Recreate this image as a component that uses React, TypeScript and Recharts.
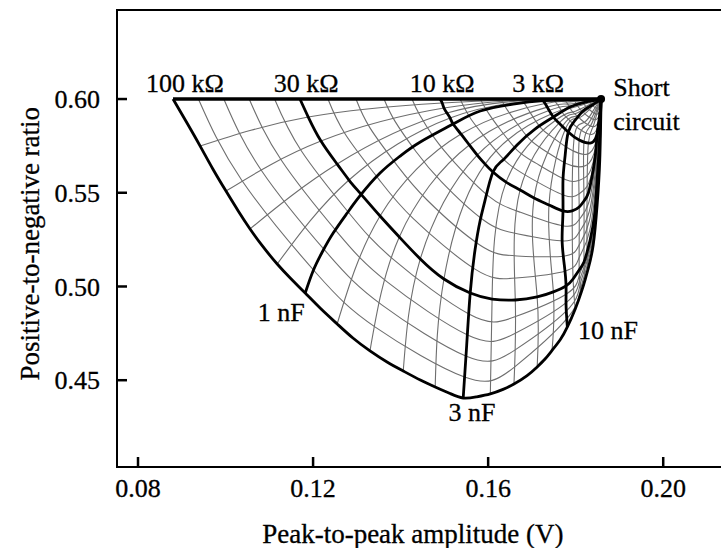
import { ComposedChart, Line, XAxis, YAxis, ReferenceArea, ReferenceDot } from 'recharts'

type Pt = [number, number]

const FONT = 'Liberation Serif'

const X_TICKS = [0.08, 0.12, 0.16, 0.2]
const Y_TICKS = [0.45, 0.5, 0.55, 0.6]
const X_DOMAIN: [number, number] = [0.0752, 0.218]
const Y_DOMAIN: [number, number] = [0.4037, 0.6475]

// C = 0 line (pure resistance) and the short-circuit end point
const OPEN_LINE: Pt[] = [[0.088, 0.6], [0.1858, 0.6]]
const SHORT_CIRCUIT: Pt = [0.1858, 0.6]

// labelled resistance curves (C going from 0 to infinity)
const R_100K: Pt[] = [
  [0.088, 0.6], [0.0912, 0.5872], [0.0942, 0.5749], [0.0971, 0.5627], [0.1001, 0.5509], [0.1029, 0.5403],
  [0.1056, 0.5307], [0.1086, 0.5211], [0.1118, 0.512], [0.115, 0.504], [0.1182, 0.4965], [0.1216, 0.4885],
  [0.1255, 0.48], [0.1291, 0.4725], [0.133, 0.4656], [0.1369, 0.4597], [0.1406, 0.4549], [0.1445, 0.4501],
  [0.1479, 0.4464], [0.1513, 0.4429], [0.1543, 0.4405], [0.1573, 0.4411], [0.1605, 0.4427], [0.1634, 0.4451],
  [0.1659, 0.448], [0.1689, 0.4525], [0.1712, 0.4571], [0.173, 0.4613], [0.1746, 0.4659], [0.1765, 0.4717],
  [0.1781, 0.4784], [0.1799, 0.488], [0.1813, 0.4971], [0.1822, 0.504], [0.1829, 0.5099], [0.184, 0.5221],
  [0.1849, 0.5435], [0.1855, 0.5675], [0.1858, 0.6],
]
const R_30K: Pt[] = [
  [0.117, 0.6], [0.1189, 0.5904], [0.1218, 0.5776], [0.1255, 0.5653], [0.1282, 0.5568], [0.1307, 0.5499],
  [0.1353, 0.5376], [0.1397, 0.5264], [0.1445, 0.5147], [0.1499, 0.504], [0.1559, 0.4965], [0.1609, 0.4933],
  [0.1662, 0.4928], [0.1712, 0.4944], [0.1749, 0.4971], [0.1778, 0.5003], [0.1794, 0.504], [0.1808, 0.5088],
  [0.1819, 0.5131], [0.1826, 0.5184], [0.1833, 0.5248], [0.1843, 0.5381], [0.1849, 0.5568], [0.1854, 0.5755],
  [0.1858, 0.6],
]
const R_10K: Pt[] = [
  [0.149, 0.6], [0.1495, 0.5979], [0.1499, 0.5952], [0.1506, 0.5925], [0.1513, 0.5899], [0.152, 0.5867],
  [0.1538, 0.5813], [0.1557, 0.5755], [0.1575, 0.5701], [0.1593, 0.5653], [0.1611, 0.5611], [0.1641, 0.5557],
  [0.1673, 0.5515], [0.1705, 0.5472], [0.1739, 0.5435], [0.1771, 0.5403], [0.1792, 0.5403], [0.1808, 0.5424],
  [0.1819, 0.5456], [0.1829, 0.5499], [0.1838, 0.5595], [0.1845, 0.5701], [0.1849, 0.5808], [0.1854, 0.5899],
  [0.1858, 0.6],
]
const R_3K: Pt[] = [
  [0.1721, 0.6], [0.1728, 0.5984], [0.1735, 0.5957], [0.1749, 0.5904], [0.1762, 0.5872], [0.1783, 0.5824],
  [0.1808, 0.5781], [0.1833, 0.5765], [0.1845, 0.5787], [0.1851, 0.5835], [0.1856, 0.5915], [0.1858, 0.6],
]

// labelled capacitance curves (R going from 100 kOhm to 0)
const C_1NF: Pt[] = [
  [0.1182, 0.4965], [0.12, 0.5083], [0.1221, 0.5184], [0.1246, 0.5285], [0.1278, 0.5392], [0.1307, 0.5483],
  [0.1353, 0.5605], [0.1399, 0.5696], [0.1445, 0.5771], [0.152, 0.5867], [0.1582, 0.5936], [0.1657, 0.5973],
  [0.1727, 0.5991], [0.1787, 0.5996], [0.1858, 0.6],
]
const C_3NF: Pt[] = [
  [0.1543, 0.4405], [0.1551, 0.4688], [0.1559, 0.4965], [0.157, 0.5195], [0.1582, 0.5355], [0.1593, 0.5461],
  [0.1611, 0.5611], [0.1634, 0.5675], [0.1666, 0.5755], [0.1707, 0.584], [0.1749, 0.5904], [0.1787, 0.5957],
  [0.1822, 0.5984], [0.1858, 0.6],
]
const C_10NF: Pt[] = [
  [0.1781, 0.4784], [0.1778, 0.4901], [0.1778, 0.5003], [0.1774, 0.5115], [0.1769, 0.5248], [0.1771, 0.5403],
  [0.1771, 0.5568], [0.1776, 0.5701], [0.1783, 0.5824], [0.1799, 0.5888], [0.1817, 0.5936], [0.1838, 0.5968],
  [0.1858, 0.6],
]

// unlabelled resistance steps
const R_GRID: Pt[][] = [
  [[0.0938, 0.6], [0.1037, 0.5567], [0.1207, 0.5072], [0.1343, 0.4782], [0.1546, 0.4517], [0.166, 0.457], [0.178, 0.4828], [0.1812, 0.4994], [0.1839, 0.5248], [0.1854, 0.5664], [0.1858, 0.6]],
  [[0.0996, 0.6], [0.1082, 0.5619], [0.1232, 0.5179], [0.1357, 0.4902], [0.1549, 0.4629], [0.166, 0.4659], [0.178, 0.4872], [0.1811, 0.5018], [0.1837, 0.5248], [0.1853, 0.5653], [0.1858, 0.6]],
  [[0.1054, 0.6], [0.1128, 0.5672], [0.1257, 0.5285], [0.137, 0.5023], [0.1553, 0.4741], [0.1661, 0.4749], [0.1779, 0.4915], [0.181, 0.5041], [0.1836, 0.5248], [0.1852, 0.5643], [0.1858, 0.6]],
  [[0.1112, 0.6], [0.1173, 0.5724], [0.1282, 0.5392], [0.1384, 0.5143], [0.1556, 0.4853], [0.1661, 0.4838], [0.1779, 0.496], [0.1809, 0.5065], [0.1834, 0.5248], [0.1851, 0.5632], [0.1858, 0.6]],
  [[0.1234, 0.6], [0.1274, 0.5811], [0.135, 0.5573], [0.1429, 0.5362], [0.1569, 0.5094], [0.1664, 0.5045], [0.1777, 0.5083], [0.1808, 0.5155], [0.1832, 0.5298], [0.1849, 0.5637], [0.1858, 0.6]],
  [[0.1298, 0.6], [0.133, 0.5846], [0.1392, 0.5646], [0.1461, 0.546], [0.158, 0.5223], [0.1666, 0.5163], [0.1775, 0.5163], [0.1808, 0.5222], [0.1831, 0.5348], [0.1848, 0.5653], [0.1858, 0.6]],
  [[0.1362, 0.6], [0.1387, 0.5882], [0.1435, 0.572], [0.1493, 0.5559], [0.159, 0.5353], [0.1669, 0.528], [0.1774, 0.5243], [0.1808, 0.529], [0.1831, 0.5399], [0.1847, 0.5669], [0.1858, 0.6]],
  [[0.1426, 0.6], [0.1443, 0.5917], [0.1477, 0.5793], [0.1525, 0.5657], [0.1601, 0.5482], [0.1671, 0.5398], [0.1772, 0.5323], [0.1808, 0.5357], [0.183, 0.5449], [0.1846, 0.5685], [0.1858, 0.6]],
  [[0.1536, 0.6], [0.1544, 0.5961], [0.1561, 0.5892], [0.1593, 0.5795], [0.1639, 0.567], [0.1691, 0.5586], [0.1773, 0.5487], [0.1808, 0.5495], [0.183, 0.5552], [0.1846, 0.5728], [0.1858, 0.6]],
  [[0.1582, 0.6], [0.1589, 0.597], [0.1603, 0.5917], [0.1628, 0.5836], [0.1666, 0.5728], [0.1709, 0.5658], [0.1776, 0.5571], [0.1808, 0.5567], [0.1831, 0.5605], [0.1847, 0.5755], [0.1858, 0.6]],
  [[0.1629, 0.6], [0.1634, 0.5979], [0.1644, 0.5941], [0.1664, 0.5876], [0.1694, 0.5787], [0.1726, 0.5729], [0.1778, 0.5656], [0.1808, 0.5638], [0.1831, 0.5659], [0.1849, 0.5781], [0.1858, 0.6]],
  [[0.1675, 0.6], [0.1679, 0.5988], [0.1686, 0.5966], [0.1699, 0.5917], [0.1721, 0.5845], [0.1744, 0.5801], [0.1781, 0.574], [0.1808, 0.571], [0.1832, 0.5712], [0.185, 0.5808], [0.1858, 0.6]],
  [[0.1748, 0.6], [0.176, 0.5966], [0.1771, 0.5923], [0.1781, 0.5898], [0.1798, 0.5859], [0.1818, 0.5825], [0.1838, 0.5812], [0.1852, 0.5868], [0.1858, 0.6]],
  [[0.1773, 0.6], [0.1782, 0.5973], [0.179, 0.594], [0.1798, 0.5921], [0.1812, 0.5891], [0.1827, 0.5864], [0.1843, 0.5854], [0.1854, 0.5898], [0.1858, 0.6]],
  [[0.1794, 0.6], [0.18, 0.598], [0.1807, 0.5955], [0.1813, 0.594], [0.1823, 0.5917], [0.1835, 0.5897], [0.1846, 0.589], [0.1855, 0.5922], [0.1858, 0.6]],
  [[0.1811, 0.6], [0.1816, 0.5985], [0.1821, 0.5967], [0.1825, 0.5956], [0.1833, 0.594], [0.1841, 0.5926], [0.185, 0.592], [0.1856, 0.5944], [0.1858, 0.6]],
  [[0.1826, 0.6], [0.183, 0.599], [0.1836, 0.597], [0.1847, 0.595], [0.1852, 0.5946], [0.1856, 0.5962], [0.1858, 0.6]],
]

// unlabelled capacitance steps
const C_GRID: Pt[][] = [
  [[0.0942, 0.5749], [0.1189, 0.5904], [0.1495, 0.5979], [0.1721, 0.5999], [0.1858, 0.6]],
  [[0.1001, 0.5509], [0.1218, 0.5776], [0.1499, 0.5952], [0.1722, 0.5998], [0.1858, 0.6]],
  [[0.1056, 0.5307], [0.1255, 0.5653], [0.1506, 0.5925], [0.1723, 0.5997], [0.1858, 0.6]],
  [[0.1118, 0.512], [0.1282, 0.5568], [0.1513, 0.5899], [0.1725, 0.5995], [0.1858, 0.6]],
  [[0.1255, 0.48], [0.1353, 0.5376], [0.1538, 0.5813], [0.173, 0.5976], [0.1779, 0.5985], [0.1829, 0.5994], [0.1858, 0.6]],
  [[0.133, 0.4656], [0.1397, 0.5264], [0.1557, 0.5755], [0.1735, 0.5957], [0.1782, 0.5973], [0.183, 0.599], [0.1858, 0.6]],
  [[0.1406, 0.4549], [0.1445, 0.5147], [0.1575, 0.5701], [0.1739, 0.5939], [0.1784, 0.5962], [0.1831, 0.5986], [0.1858, 0.6]],
  [[0.1479, 0.4464], [0.1499, 0.504], [0.1593, 0.5653], [0.1744, 0.592], [0.1787, 0.595], [0.1832, 0.5982], [0.1858, 0.6]],
  [[0.1605, 0.4427], [0.1609, 0.4933], [0.1641, 0.5557], [0.1755, 0.5888], [0.1794, 0.5931], [0.1834, 0.5974], [0.1858, 0.6]],
  [[0.1659, 0.448], [0.1662, 0.4928], [0.1673, 0.5515], [0.1762, 0.5872], [0.1798, 0.5921], [0.1836, 0.5971], [0.1858, 0.6]],
  [[0.1712, 0.4571], [0.1712, 0.4944], [0.1705, 0.5472], [0.1769, 0.5853], [0.1803, 0.5909], [0.1838, 0.5966], [0.1858, 0.6]],
  [[0.1746, 0.4659], [0.1749, 0.4971], [0.1739, 0.5435], [0.1776, 0.5837], [0.1807, 0.5899], [0.1839, 0.5963], [0.1858, 0.6]],
  [[0.1799, 0.488], [0.1794, 0.504], [0.1792, 0.5403], [0.1797, 0.58], [0.182, 0.5876], [0.1844, 0.5954], [0.1858, 0.6]],
  [[0.1813, 0.4971], [0.1808, 0.5088], [0.1808, 0.5424], [0.1808, 0.5781], [0.1827, 0.5864], [0.1847, 0.595], [0.1858, 0.6]],
  [[0.1822, 0.504], [0.1819, 0.5131], [0.1819, 0.5456], [0.1819, 0.5771], [0.1834, 0.5858], [0.1849, 0.5947], [0.1858, 0.6]],
  [[0.1829, 0.5099], [0.1826, 0.5184], [0.1826, 0.5488], [0.1829, 0.5765], [0.184, 0.5854], [0.1851, 0.5946], [0.1858, 0.6]],
]

const NOTES = [
  { text: '100 kΩ', x: 0.0907, y: 0.6085, pos: 'center' },
  { text: '30 kΩ', x: 0.1184, y: 0.6085, pos: 'center' },
  { text: '10 kΩ', x: 0.1495, y: 0.6085, pos: 'center' },
  { text: '3 kΩ', x: 0.1714, y: 0.6085, pos: 'center' },
  { text: 'Short', x: 0.1886, y: 0.6064, pos: 'right' },
  { text: 'circuit', x: 0.1886, y: 0.5885, pos: 'right' },
  { text: '1 nF', x: 0.1127, y: 0.4864, pos: 'center' },
  { text: '3 nF', x: 0.1563, y: 0.4331, pos: 'center' },
  { text: '10 nF', x: 0.1874, y: 0.4768, pos: 'center' },
]

const rows = (pts: Pt[]) => pts.map(([x, y]) => ({ x, y }))

const curve = (pts: Pt[], key: string, thick: boolean) => (
  <Line
    key={key}
    data={rows(pts)}
    dataKey="y"
    type="natural"
    stroke={thick ? '#000' : '#6e6e6e'}
    strokeWidth={thick ? 2.8 : 1.1}
    dot={false}
    activeDot={false}
    legendType="none"
    isAnimationActive={false}
  />
)

const txt = (size = 26) => ({ fill: '#000', stroke: '#000', strokeWidth: 0.3, fontSize: size, fontFamily: FONT })

export default function App() {
  return (
    <div style={{ position: 'fixed', left: 0, top: 0, width: 721, height: 548, overflow: 'hidden', background: '#fff', fontFamily: FONT }}>
      <ComposedChart width={742} height={548} margin={{ top: 10, right: 0, bottom: 0, left: 0 }}>
        <ReferenceArea x1={X_DOMAIN[0]} x2={X_DOMAIN[1]} y1={Y_DOMAIN[0]} y2={Y_DOMAIN[1]} fill="none" stroke="#000" strokeWidth={2} ifOverflow="visible" />
        <XAxis
          type="number"
          dataKey="x"
          domain={X_DOMAIN}
          allowDataOverflow
          ticks={X_TICKS}
          interval={0}
          tickFormatter={(v: number) => v.toFixed(2)}
          height={81}
          tickSize={-10}
          tickMargin={22}
          axisLine={{ stroke: '#000', strokeWidth: 2 }}
          tickLine={{ stroke: '#000', strokeWidth: 2.5 }}
          tick={txt()}
        />
        <YAxis
          type="number"
          domain={Y_DOMAIN}
          allowDataOverflow
          ticks={Y_TICKS}
          interval={0}
          tickFormatter={(v: number) => v.toFixed(2)}
          width={117}
          tickSize={-10}
          tickMargin={27}
          axisLine={{ stroke: '#000', strokeWidth: 2 }}
          tickLine={{ stroke: '#000', strokeWidth: 2.5 }}
          tick={txt()}
        />
        {R_GRID.map((p, i) => curve(p, `r${i}`, false))}
        {C_GRID.map((p, i) => curve(p, `c${i}`, false))}
        {curve(R_100K, 'r100k', true)}
        {curve(R_30K, 'r30k', true)}
        {curve(R_10K, 'r10k', true)}
        {curve(R_3K, 'r3k', true)}
        {curve(C_1NF, 'c1n', true)}
        {curve(C_3NF, 'c3n', true)}
        {curve(C_10NF, 'c10n', true)}
        <Line data={rows(OPEN_LINE)} dataKey="y" type="linear" stroke="#000" strokeWidth={3.5} dot={false} activeDot={false} legendType="none" isAnimationActive={false} />
        <ReferenceDot x={SHORT_CIRCUIT[0]} y={SHORT_CIRCUIT[1]} r={4} fill="#000" stroke="none" />
        {NOTES.map((n) => (
          <ReferenceDot
            key={n.text}
            x={n.x}
            y={n.y}
            r={0}
            fill="none"
            stroke="none"
            ifOverflow="visible"
            label={{ value: n.text, position: n.pos, offset: 0, ...txt() }}
          />
        ))}
        <ReferenceDot x={0.1428} y={0.3685} r={0} fill="none" stroke="none" ifOverflow="visible"
          label={{ value: 'Peak-to-peak amplitude (V)', position: 'center', ...txt(27) }} />
        <ReferenceDot x={0.0553} y={0.5228} r={0} fill="none" stroke="none" ifOverflow="visible"
          label={{ value: 'Positive-to-negative ratio', position: 'center', angle: -90, ...txt(27) }} />
      </ComposedChart>
    </div>
  )
}
